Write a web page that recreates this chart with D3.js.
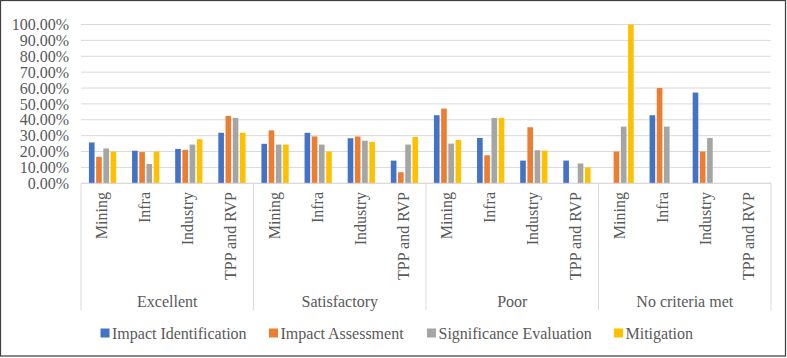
<!DOCTYPE html>
<html>
<head>
<meta charset="utf-8">
<script src="https://cdn.jsdelivr.net/npm/d3@7"></script>
<style>
html,body{margin:0;padding:0;background:#fff;}
svg{display:block;}
</style>
</head>
<body>
<svg id="chart" width="787" height="358"></svg>
<script>
const groups = ["Excellent", "Satisfactory", "Poor", "No criteria met"];
const sectors = ["Mining", "Infra", "Industry", "TPP and RVP"];
const seriesNames = ["Impact Identification", "Impact Assessment", "Significance Evaluation", "Mitigation"];
const colors = ["#4472C4", "#ED7D31", "#A5A5A5", "#FFC000"];
const yTicks = [0, 0.1, 0.2, 0.3, 0.4, 0.5, 0.6, 0.7, 0.8, 0.9, 1.0];

// values by group, then sector, in series order
const impactIdentification = [
  0.2571, 0.2051, 0.2162, 0.3182,
  0.2486, 0.3179, 0.2838, 0.1429,
  0.4286, 0.2857, 0.1429, 0.1429,
  0.0000, 0.4286, 0.5714, 0.0000
];
const impactAssessment = [
  0.1667, 0.1967, 0.2105, 0.4242,
  0.3333, 0.2951, 0.2947, 0.0700,
  0.4706, 0.1765, 0.3529, 0.0000,
  0.2000, 0.6000, 0.2000, 0.0000
];
const significanceEvaluation = [
  0.2195, 0.1220, 0.2439, 0.4118,
  0.2439, 0.2439, 0.2683, 0.2439,
  0.2500, 0.4118, 0.2083, 0.1250,
  0.3571, 0.3571, 0.2857, 0.0000
];
const mitigation = [
  0.2000, 0.2000, 0.2778, 0.3182,
  0.2439, 0.2000, 0.2609, 0.2917,
  0.2727, 0.4118, 0.2059, 0.1000,
  1.0000, 0.0000, 0.0000, 0.0000
];
const seriesValues = [impactIdentification, impactAssessment, significanceEvaluation, mitigation];

const FONT = '"Liberation Serif", "Times New Roman", serif';
const FSIZE = "16px";
const TEXT_COLOR = "#595959";
const svg = d3.select("#chart");
const W = 787, H = 358;
const mLeft = 81, mRight = 771, mTop = 24.5, mBottom = 183.3;

svg.append("rect").attr("x", 0.5).attr("y", 0.5).attr("width", W - 2).attr("height", H - 2.5)
  .attr("fill", "#fff").attr("stroke", "#404040").attr("stroke-width", 1.25);

const cats = [];
groups.forEach(g => sectors.forEach(s => cats.push(g + "|" + s)));

const x0 = d3.scaleBand().domain(cats).range([mLeft, mRight]).paddingInner(0).paddingOuter(0);
const x1 = d3.scaleBand().domain(seriesNames).range([0, x0.bandwidth()]).paddingInner(0.22).paddingOuter(1.1);
const y = d3.scaleLinear().domain([0, 1]).range([mBottom, mTop]);

// gridlines
svg.append("g").selectAll("line").data(yTicks).join("line")
  .attr("x1", mLeft).attr("x2", mRight)
  .attr("y1", d => y(d)).attr("y2", d => y(d))
  .attr("stroke", "#d9d9d9").attr("stroke-width", 1);

// y axis labels
const yAxis = d3.axisLeft(y).tickValues(yTicks).tickFormat(d => d3.format(".2f")(d * 100) + "%").tickSize(0).tickPadding(12);
const ya = svg.append("g").attr("transform", `translate(${mLeft},0)`).call(yAxis);
ya.select(".domain").remove();
ya.selectAll("text").style("font-family", FONT).style("font-size", FSIZE).style("fill", TEXT_COLOR);

// bars
const barData = [];
cats.forEach((c, i) => seriesNames.forEach((s, j) => barData.push({c, s, j, v: seriesValues[j][i]})));
svg.append("g").selectAll("rect").data(barData.filter(d => d.v > 0)).join("rect")
  .attr("x", d => x0(d.c) + x1(d.s))
  .attr("width", x1.bandwidth())
  .attr("y", d => y(d.v))
  .attr("height", d => y(0) - y(d.v))
  .attr("fill", d => colors[d.j]);

// x axis baseline
svg.append("line").attr("x1", mLeft).attr("x2", mRight).attr("y1", mBottom).attr("y2", mBottom)
  .attr("stroke", "#d9d9d9").attr("stroke-width", 1);

// group separators
const sepY2 = 310;
const groupBounds = groups.map((g, i) => x0(g + "|" + sectors[0])).concat([mRight]);
svg.append("g").selectAll("line").data(groupBounds).join("line")
  .attr("x1", d => d).attr("x2", d => d).attr("y1", mBottom).attr("y2", sepY2)
  .attr("stroke", "#d9d9d9").attr("stroke-width", 1);

// category labels rotated
svg.append("g").selectAll("text").data(cats).join("text")
  .attr("transform", d => `translate(${x0(d) + x0.bandwidth() / 2 + 4.5},${192}) rotate(-90)`)
  .attr("text-anchor", "end")
  .style("font-family", FONT).style("font-size", FSIZE).style("fill", TEXT_COLOR)
  .text(d => d.split("|")[1]);

// group labels
svg.append("g").selectAll("text").data(groups).join("text")
  .attr("x", (d, i) => (groupBounds[i] + groupBounds[i + 1]) / 2)
  .attr("y", 306.5)
  .attr("text-anchor", "middle")
  .style("font-family", FONT).style("font-size", FSIZE).style("fill", TEXT_COLOR)
  .text(d => d);

// legend
const legendX = [100.5, 269, 427, 614];
const lg = svg.append("g").selectAll("g").data(seriesNames).join("g")
  .attr("transform", (d, i) => `translate(${legendX[i]},333)`);
lg.append("rect").attr("x", 0).attr("y", -4.5).attr("width", 9).attr("height", 9).attr("fill", (d, i) => colors[i]);
lg.append("text").attr("x", 11.5).attr("y", 0).attr("dy", "0.35em")
  .style("font-family", FONT).style("font-size", FSIZE).style("fill", TEXT_COLOR)
  .text(d => d);
</script>
</body>
</html>
